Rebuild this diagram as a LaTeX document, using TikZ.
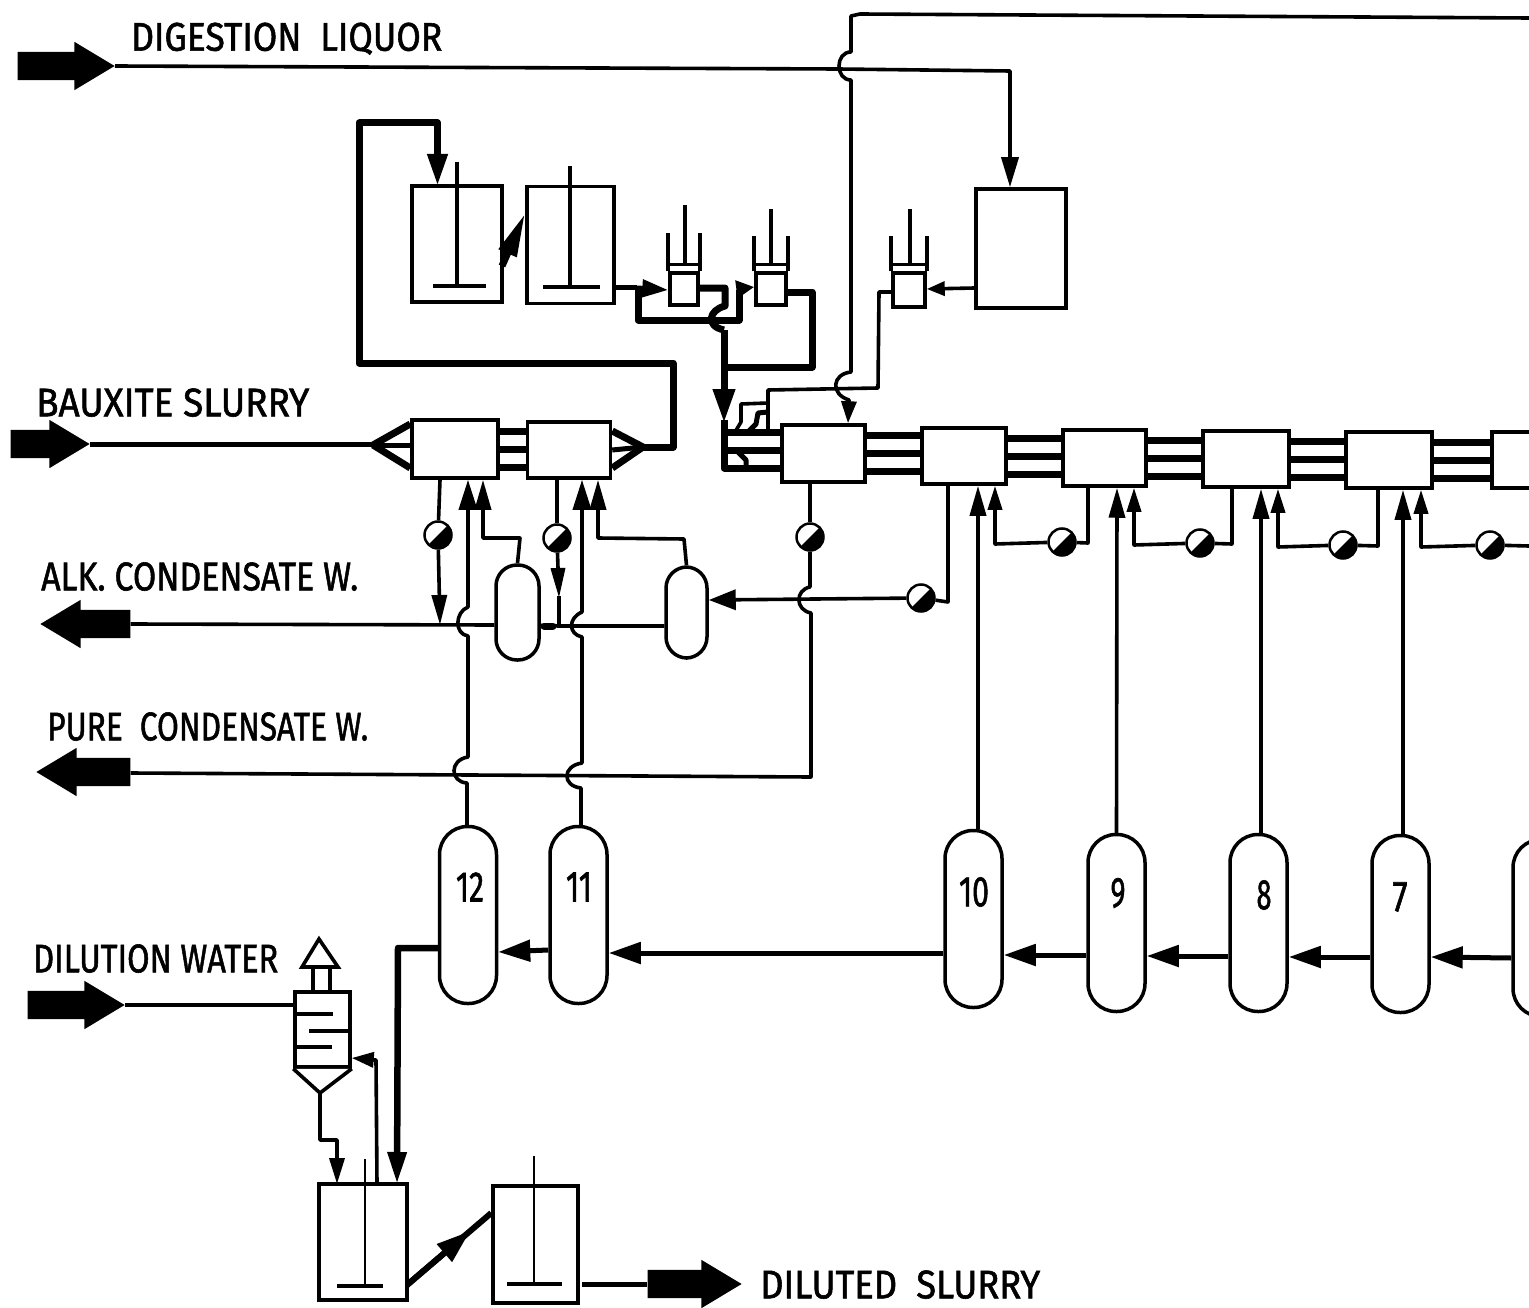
\documentclass[tikz,border=0pt]{standalone}
\usepackage{graphicx}
\usepackage{fontspec}
\newfontfamily\lblfont[FakeBold=1.5]{Fira Sans}
\usetikzlibrary{arrows.meta,shapes.arrows,calc}
\tikzset{
  pipe/.style={line width=3.6pt,line join=round},
  mpipe/.style={line width=5pt,line join=round},
  tpipe/.style={line width=7pt,line join=round},
  arr/.style={-{Triangle[length=30pt,width=18pt]}},
  arrs/.style={-{Triangle[length=30pt,width=16pt]}},
  vessel/.style={draw,line width=3.5pt,fill=white,inner sep=0pt},
  hbox/.style={vessel},
  pill/.style={vessel,minimum width=57pt,minimum height=177pt,rounded corners=28pt},
  spill/.style={vessel,minimum width=42pt,minimum height=93pt,rounded corners=21pt},
  valve/.style={circle,draw,line width=2.5pt,fill=white,minimum size=27pt,inner sep=0pt,
    path picture={\fill[black] (path picture bounding box.south west)--(path picture bounding box.south east)--(path picture bounding box.north east)--cycle;}},
  block/.style={single arrow,fill=black,inner sep=0pt,single arrow head extend=10pt,
    minimum width=48pt,single arrow tip angle=62},
  lbl/.style={inner sep=0pt,anchor=south west,font=\lblfont},
  num/.style={inner sep=0pt,font=\lblfont}
}
\newcommand{\fitlab}[3]{\resizebox{#1pt}{#2pt}{#3}}
\newcommand{\shaftbox}{\rule{0pt}{28pt}}
\begin{document}
\begin{tikzpicture}[x=1pt,y=-1pt]
\path[use as bounding box,clip] (0,0) rectangle (1529,1308);
\fill[white] (0,0) rectangle (1529,1308);

% ---- block arrows
\node[block,minimum height=97pt,anchor=tip] (dig) at (115,66) {\shaftbox};
\node[block,minimum height=79pt,anchor=tip] (bau) at (90,444) {\shaftbox};
\node[block,minimum height=90pt,anchor=tip,shape border rotate=180] (alk) at (40,624) {\shaftbox};
\node[block,minimum height=94pt,anchor=tip,shape border rotate=180] (pur) at (36,772) {\shaftbox};
\node[block,minimum height=97pt,anchor=tip] (dil) at (125,1005) {\shaftbox};
\node[block,minimum height=94pt,anchor=tip] (slu) at (742,1284) {\shaftbox};

% ---- labels
\node[lbl] (tdig) at (131,55) {\fitlab{311}{28}{DIGESTION\ \ LIQUOR}};
\node[lbl] (tbau) at (36,417) {\fitlab{273}{28}{BAUXITE SLURRY}};
\node[lbl] (talk) at (41,591) {\fitlab{317}{28}{ALK. CONDENSATE W.}};
\node[lbl] (tpur) at (47,741) {\fitlab{321}{28}{PURE\ \ CONDENSATE W.}};
\node[lbl] (tdil) at (33,973) {\fitlab{245}{28}{DILUTION WATER}};
\node[lbl] (tslu) at (760,1299) {\fitlab{280}{28}{DILUTED\ \ SLURRY}};

% ---- upper tanks
\node[hbox,minimum width=90pt,minimum height=116pt] (T1) at (457,244) {};
\node[hbox,minimum width=87pt,minimum height=117pt] (T2) at (570.5,245) {};
\node[hbox,minimum width=90pt,minimum height=119pt] (T4) at (1021,248.5) {};
\draw[pipe] (457,162)--(457,285);
\draw[pipe] (433,286)--(486,286);
\draw[pipe] (570,166)--(570,287);
\draw[pipe] (543,287)--(600,287);

% ---- small settlers
\node[hbox,minimum width=28pt,minimum height=32pt] (S1) at (684,289) {};
\node[hbox,minimum width=30pt,minimum height=32pt] (S2) at (771,289) {};
\node[hbox,minimum width=32pt,minimum height=34pt] (S3) at (909,290) {};
\foreach \s/\top in {S1/38,S2/35,S3/35}{
  \draw[pipe] (\s.north west)--++(0,-\top);
  \draw[pipe] (\s.north east)--++(0,-\top);
  \draw[line width=2.5pt] ([yshift=7pt]\s.north west)--([yshift=7pt]\s.north east);
}
\draw[pipe] ([xshift=1pt,yshift=7pt]S1.north)--(685,205);
\draw[pipe] ([yshift=7pt]S2.north)--(771,209);
\draw[pipe] ([xshift=1pt,yshift=7pt]S3.north)--(910,209);

% ---- horizontal exchangers
\node[hbox,minimum width=86pt,minimum height=58pt] (B1) at (455,449) {};
\node[hbox,minimum width=83pt,minimum height=56pt] (B2) at (569,450) {};
\node[hbox,minimum width=83pt,minimum height=57pt] (B3) at (823.5,453.5) {};
\node[hbox,minimum width=84pt,minimum height=56pt] (B4) at (964,456) {};
\node[hbox,minimum width=83pt,minimum height=56pt] (B5) at (1104.5,458) {};
\node[hbox,minimum width=86pt,minimum height=56pt] (B6) at (1246,459) {};
\node[hbox,minimum width=86pt,minimum height=56pt] (B7) at (1389,460) {};
\node[hbox,minimum width=86pt,minimum height=56pt] (B8) at (1535,460) {};
\foreach \a/\b in {B1/B2,B3/B4,B4/B5,B5/B6,B6/B7,B7/B8}{
  \foreach \s in {18,0,-18}{
    \draw[tpipe] ([yshift=\s pt]\a.east)--([yshift=\s pt]\a.east -| \b.west);
  }
}

% ---- valves
\node[valve] (V1) at (438,535) {};
\node[valve] (V2) at (557,538) {};
\node[valve] (V3) at (810,537) {};
\node[valve] (V4) at (921,598) {};
\node[valve] (V5) at (1062,542) {};
\node[valve] (V6) at (1200,543) {};
\node[valve] (V7) at (1343,545) {};
\node[valve] (V8) at (1490,545) {};

% ---- flash / preheater vessels
\node[spill,minimum width=43pt,minimum height=95pt] (VA) at (517.5,612.5) {};
\node[spill,minimum width=41pt,minimum height=91pt] (VB) at (686.5,612.5) {};
\node[pill] (D12) at (468,915) {};
\node[pill] (D11) at (578.5,915) {};
\node[pill] (D10) at (973.5,919) {};
\node[pill] (D9) at (1116.5,923) {};
\node[pill] (D8) at (1258.5,923) {};
\node[pill] (D7) at (1400.5,924) {};
\node[pill] (D6) at (1541.5,928) {};
\node[num] (n12) at (470,887) {\fitlab{28}{29}{12}};
\node[num] (n11) at (579,887) {\fitlab{26}{29}{11}};
\node[num] (n10) at (974,892) {\fitlab{30}{29}{10}};
\node[num] (n9) at (1118,893) {\fitlab{15}{29}{9}};
\node[num] (n8) at (1264,895) {\fitlab{15}{29}{8}};
\node[num] (n7) at (1400,897) {\fitlab{15}{29}{7}};

% ---- lower tanks
\node[hbox,minimum width=88pt,minimum height=116pt] (D1) at (363,1242) {};
\node[hbox,minimum width=85pt,minimum height=117pt] (D2) at (535.5,1244.5) {};
\draw[line width=2.8pt] (365,1159)--(365,1286);
\draw[pipe] (337,1286)--(383,1286);
\draw[line width=2.8pt] (534,1156)--(534,1284);
\draw[pipe] (507,1284)--(562,1284);

% ---- scrubber
\node[hbox,minimum width=55pt,minimum height=75pt] (SC) at (322.5,1029.5) {};
\coordinate (sctip) at (320,1093);
\draw[pipe,fill=white] (SC.south west)--(sctip)--(SC.south east);
\draw[pipe] (295,1014)--(333,1014);
\draw[pipe] (309,1031)--(350,1031);
\draw[pipe] (295,1047)--(332,1047);
\draw[pipe] (313,990)--(313,968);
\draw[pipe] (330,990)--(330,968);
\draw[pipe,fill=white,line join=miter] (302,967)--(319,939)--(338,967)--cycle;
\draw[pipe] (dil.tip)--(SC.west |- dil.tip);

% ---- digestion liquor and return line
\draw[pipe,-{Triangle[length=30pt,width=17pt]}] (dig.tip)--(838,69)--(1010,71)--(T4.north -| 1010,0);
\draw[pipe,-{Triangle[length=22pt,width=15pt]}] (1529,18)--(860,14)--(851,16)--(851,52)
  .. controls (835,52) and (835,80) .. (851,80)
  --(851,372) .. controls (832,374) and (830,394) .. (849,400)
  --([xshift=24.5pt]B3.north);

% ---- slurry to tanks and exchangers
\draw[mpipe] (bau.tip)--(373,444);
\coordinate (cl) at (373,445);
\coordinate (cr) at (643,447);
\draw[tpipe] (cl)--([yshift=25pt]B1.west);
\draw[tpipe] (cl)--([yshift=-19pt]B1.west);
\draw[mpipe] (cl)--([yshift=4pt]B1.west);
\draw[tpipe] (cr)--([yshift=19pt]B2.east);
\draw[tpipe] (cr)--([yshift=-18pt]B2.east);
\draw[mpipe] (cr)--(B2.east);
\draw[tpipe,-{Triangle[length=32pt,width=19pt]}] (cr)--(673,447)--(673,363)--(359,363)--(359,123)--(437.5,123)--(437.5,186);
\draw[line width=7pt,-{Triangle[length=44pt,width=18pt]}] (502,266)--(T2.west |- 0,213);

\draw[mpipe] (T2.east |- 0,287)--(637,287);
\draw[mpipe,-{Triangle[length=26pt,width=17pt]}] (637,288)--(S1.west |- 0,290);
\draw[tpipe] (638,288)--(638,320)--(739,320)--(739,290);
\draw[mpipe,-{Triangle[length=18pt,width=17pt]}] (739,289)--(S2.west |- 0,287);
\draw[tpipe] (S1.east |- 0,288)--(725,288)--(725,306)
  .. controls (709,310) and (705,326) .. (724,330);
\coordinate (jv) at (724,367);
\draw[tpipe] (S2.east |- 0,292)--(812,292)--(812,367)--(jv);
\draw[tpipe,-{Triangle[length=34pt,width=21pt]}] (724,330)--(724,423);
\draw[tpipe] (724,420)--(724,468)--(B3.west |- 0,468);
\draw[tpipe] (724,450)--(B3.west |- 0,450);
\draw[tpipe] (724,432)--(B3.west |- 0,432);
\draw[mpipe] (738,452)--(746,460)--(746,468);

% ---- thin feed to first exchanger
\draw[pipe,-{Triangle[length=18pt,width=14pt]}] (T4.west |- 0,288)--(S3.east |- 0,289);
\draw[pipe] (S3.west |- 0,292)--(879,292)--(878,388)--(768,390)--(768,432);
\draw[pipe] (768,403)--(741,404)--(741,422)--(735,432);
\draw[mpipe] (768,412)--(758,413)--(756,424)--(748,432);

% ---- lower exchanger lines
\coordinate (j1) at (440,625);
\coordinate (j2) at (559,626);
\draw[pipe] ([xshift=-15pt]B1.south)--(V1);
\draw[pipe,-{Triangle[length=30pt,width=15pt]}] (V1)--(j1);
\draw[pipe] ([xshift=-12pt]B2.south)--(V2);
\draw[pipe,-{Triangle[length=30pt,width=14pt]}] (V2)--(559,598);
\draw[pipe] (559,596)--(j2);
\draw[pipe] (alk.tail |- 0,624)--([yshift=-12.5pt]VA.west);
\draw[pipe] ([yshift=-13pt]VA.east)--(j2)--([yshift=-13.5pt]VB.west);
\draw[line width=7pt,line cap=round] (544,626)--(553,626);

\draw[pipe,arr] ([xshift=-1pt]D12.north)--(467,783)
  .. controls (450,782) and (449,760) .. (468,757)
  --(468,636) .. controls (454,634) and (455,612) .. (468,607)
  --([xshift=13pt]B1.south);
\draw[pipe,arr] ([xshift=2.5pt]D11.north)--(581,788)
  .. controls (562,786) and (562,766) .. (582,763)
  --(582,637) .. controls (568,634) and (568,618) .. (582,612)
  --([xshift=13pt]B2.south);
\draw[pipe,arrs] (VA.north)--(520,538)--(483,538)--([xshift=28pt]B1.south);
\draw[pipe,arrs] (VB.north)--(684,539)--(598,538)--([xshift=29pt]B2.south);

\draw[pipe] ([xshift=-13.5pt]B3.south)--(V3);
\draw[pipe] (V3)--(810,587) .. controls (795,590) and (795,610) .. (811,613)
  --(811,777)--(pur.tail |- 0,773);
\draw[pipe] ([xshift=-16pt]B4.south)--(948,602)--(V4);
\draw[pipe,-{Triangle[length=27pt,width=20pt]}] (V4)--([yshift=12.5pt]VB.east);

\draw[pipe,arrs] ([xshift=4.5pt]D10.north)--([xshift=14pt]B4.south);
\draw[pipe,arrs] (D9.north)--([xshift=12.5pt]B5.south);
\draw[pipe,arrs] ([xshift=2.5pt]D8.north)--([xshift=15pt]B6.south);
\draw[pipe,arrs] ([xshift=2.5pt]D7.north)--([xshift=14pt]B7.south);

\draw[pipe,-{Triangle[length=24pt,width=14pt]}] (V5)--(995,544)--([xshift=31pt]B4.south);
\draw[pipe] (V5)--(1088,543)--([xshift=-16.5pt]B5.south);
\draw[pipe,-{Triangle[length=24pt,width=14pt]}] (V6)--(1134,545)--([xshift=29.5pt]B5.south);
\draw[pipe] (V6)--(1232,544)--([xshift=-14pt]B6.south);
\draw[pipe,-{Triangle[length=24pt,width=14pt]}] (V7)--(1278,547)--([xshift=32pt]B6.south);
\draw[pipe] (V7)--(1378,546)--([xshift=-11pt]B7.south);
\draw[pipe,-{Triangle[length=24pt,width=14pt]}] (V8)--(1421,547)--([xshift=32pt]B7.south);
\draw[pipe] (V8)--(1529,546);

% ---- slurry through the heaters
\draw[mpipe,-{Triangle[length=32pt,width=21pt]}] (D6.west |- 0,958)--(D7.east |- 0,957);
\draw[mpipe,-{Triangle[length=32pt,width=21pt]}] (D7.west |- 0,957)--(D8.east |- 0,957);
\draw[mpipe,-{Triangle[length=32pt,width=21pt]}] (D8.west |- 0,956)--(D9.east |- 0,956);
\draw[mpipe,-{Triangle[length=32pt,width=21pt]}] (D9.west |- 0,955)--(D10.east |- 0,955);
\draw[mpipe,-{Triangle[length=32pt,width=21pt]}] (D10.west |- 0,953)--(D11.east |- 0,953);
\draw[mpipe,-{Triangle[length=32pt,width=21pt]}] (D11.west |- 0,950)--(D12.east |- 0,952);
\draw[line width=6.5pt,line join=round,-{Triangle[length=32pt,width=18pt]}] (D12.west |- 0,948)--(398,948)--(397,1184);

% ---- scrubber and last tanks
\draw[pipe,-{Triangle[length=26pt,width=15pt]}] (sctip)--(320,1140)--(337,1140)--(337,1184);
\draw[pipe,-{Triangle[length=22pt,width=15pt]}] (377,1184)--(376,1060)--(SC.east |- 0,1058);
\coordinate (dout) at (407,1285);
\coordinate (din) at (D2.west |- 0,1213);
\draw[line width=6pt] (dout)--(din);
\draw[line width=6pt,-{Triangle[length=34pt,width=22pt]}] (dout)--($(dout)!0.75!(din)$);
\draw[mpipe] (582,1284)--(slu.tail |- 0,1284);
\end{tikzpicture}
\end{document}
